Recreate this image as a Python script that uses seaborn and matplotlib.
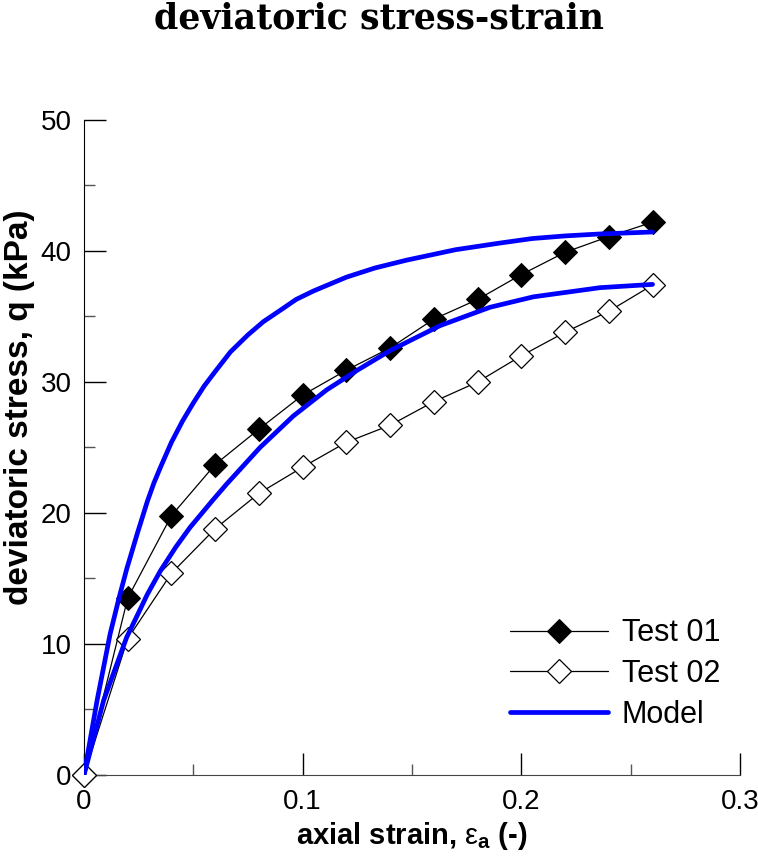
import matplotlib
matplotlib.use("Agg")
import matplotlib.pyplot as plt
from matplotlib.ticker import MultipleLocator
import seaborn as sns

# test data (strain, q in kPa)
strain_test = [0.0, 0.02, 0.04, 0.06, 0.08, 0.10, 0.12, 0.14, 0.16, 0.18, 0.20, 0.22, 0.24, 0.26]
q_test01 = [0.0, 13.5, 19.8, 23.7, 26.4, 29.0, 30.9, 32.6, 34.8, 36.3, 38.2, 39.9, 41.1, 42.2]
q_test02 = [0.0, 10.4, 15.4, 18.8, 21.5, 23.5, 25.4, 26.7, 28.5, 30.0, 32.0, 33.8, 35.4, 37.4]

# model curves
strain_model_a = [0.0, 0.006, 0.012, 0.016, 0.0195, 0.0245, 0.029, 0.032, 0.035, 0.040, 0.045,
                  0.050, 0.055, 0.060, 0.067, 0.075, 0.082, 0.090, 0.097, 0.105, 0.120, 0.133,
                  0.1475, 0.170, 0.190, 0.205, 0.220, 0.236, 0.26]
q_model_a = [0.0, 5.7, 10.8, 13.5, 15.7, 18.5, 20.9, 22.3, 23.5, 25.4, 27.0,
             28.4, 29.7, 30.8, 32.3, 33.6, 34.6, 35.5, 36.3, 36.95, 38.0, 38.7,
             39.3, 40.1, 40.6, 40.95, 41.15, 41.3, 41.45]
strain_model_b = [0.0, 0.009, 0.0195, 0.025, 0.029, 0.035, 0.042, 0.0485, 0.059, 0.0652,
                  0.0805, 0.0957, 0.111, 0.125, 0.140, 0.1628, 0.1856, 0.2055, 0.236, 0.26]
q_model_b = [0.0, 5.7, 10.5, 12.4, 13.8, 15.6, 17.4, 18.9, 21.0, 22.2,
             25.0, 27.4, 29.4, 30.9, 32.4, 34.3, 35.7, 36.5, 37.2, 37.45]

x_ticks = [0.0, 0.1, 0.2, 0.3]
x_tick_labels = ["0", "0.1", "0.2", "0.3"]

sns.set_style("ticks")
plt.rcParams['font.family'] = ['Liberation Sans', 'DejaVu Sans']
plt.rcParams['mathtext.fontset'] = 'custom'
plt.rcParams['mathtext.rm'] = 'Liberation Sans'
plt.rcParams['mathtext.bf'] = 'Liberation Sans:bold'
plt.rcParams['mathtext.it'] = 'Liberation Sans:italic'
plt.rcParams['text.color'] = 'black'
plt.rcParams['axes.labelcolor'] = 'black'
plt.rcParams['xtick.color'] = 'black'
plt.rcParams['ytick.color'] = 'black'

fig = plt.figure(figsize=(7.58, 8.57), dpi=100)
ax = fig.add_axes([0.1108, 0.0957, 0.8655, 0.7643])

sns.lineplot(x=strain_test, y=q_test01, ax=ax, color="black", lw=0.9, marker="D",
             markersize=12, markerfacecolor="black", markeredgecolor="black",
             label="Test 01", clip_on=False, sort=False, zorder=3)
sns.lineplot(x=strain_test, y=q_test02, ax=ax, color="black", lw=0.9, marker="D",
             markersize=12, markerfacecolor="white", markeredgecolor="black",
             markeredgewidth=0.9, label="Test 02", clip_on=False, sort=False, zorder=3)
sns.lineplot(x=strain_model_a, y=q_model_a, ax=ax, color="#0000ff", lw=3.4,
             label="Model", sort=False, zorder=4, solid_capstyle="round",
             solid_joinstyle="round")
sns.lineplot(x=strain_model_b, y=q_model_b, ax=ax, color="#0000ff", lw=3.4,
             sort=False, zorder=4, solid_capstyle="round", solid_joinstyle="round")

ax.set_xlim(0, 0.3)
ax.set_ylim(0, 50)
ax.set_xticks(x_ticks, labels=x_tick_labels)
ax.xaxis.set_minor_locator(MultipleLocator(0.05))
ax.yaxis.set_major_locator(MultipleLocator(10))
ax.yaxis.set_minor_locator(MultipleLocator(5))
ax.tick_params(which="major", direction="in", length=16, width=1, labelsize=20)
ax.tick_params(axis="x", which="major", pad=10)
ax.tick_params(axis="y", which="major", pad=9)
ax.tick_params(which="minor", direction="in", length=8, width=1, color="#555555")
for s in ["top", "right"]:
    ax.spines[s].set_visible(False)
ax.spines["left"].set_color("black")
ax.spines["bottom"].set_color("#444444")

ax.set_xlabel(r"axial strain, $\mathrm{\varepsilon}_{\mathbf{a}}$ (-)", fontsize=21,
              fontweight="bold", labelpad=4)
ax.set_ylabel("deviatoric stress, q (kPa)", fontsize=24, fontweight="bold")
ax.yaxis.set_label_coords(-0.074, 0.562)

fig.suptitle("deviatoric stress-strain", fontsize=25, fontweight="bold",
             family="DejaVu Serif", x=0.5, y=0.998)

leg = ax.legend(loc="lower right", bbox_to_anchor=(1.012, 0.027), frameon=False,
                fontsize=22, handlelength=3.2, handletextpad=0.45, labelspacing=0.35)

fig.savefig("out.png", dpi=100)
